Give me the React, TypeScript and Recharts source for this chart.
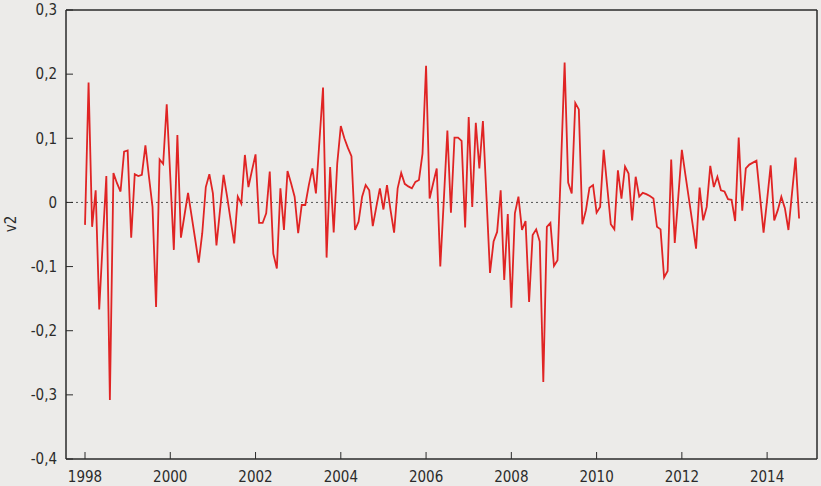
import { LineChart, Line, XAxis, YAxis, ReferenceLine, ReferenceArea, Label } from 'recharts';

// monthly values of v2, Jan 1998 .. Oct 2014
const years = [1998, 1999, 2000, 2001, 2002, 2003, 2004, 2005, 2006, 2007, 2008, 2009, 2010, 2011, 2012, 2013, 2014];
const v1998 = [-0.035, 0.187, -0.038, 0.019, -0.167, -0.06, 0.041, -0.308, 0.046, 0.03, 0.017, 0.079];
const v1999 = [0.081, -0.055, 0.044, 0.041, 0.043, 0.089, 0.04, -0.007, -0.163, 0.067, 0.06, 0.153];
const v2000 = [0.04, -0.074, 0.105, -0.055, -0.02, 0.015, -0.021, -0.057, -0.094, -0.048, 0.024, 0.044];
const v2001 = [0.014, -0.067, -0.012, 0.043, 0.009, -0.028, -0.064, 0.009, -0.002, 0.074, 0.024, 0.05];
const v2002 = [0.075, -0.032, -0.032, -0.017, 0.048, -0.08, -0.103, 0.022, -0.043, 0.049, 0.03, 0.009];
const v2003 = [-0.048, -0.004, -0.004, 0.027, 0.053, 0.014, 0.097, 0.179, -0.086, 0.055, -0.047, 0.061];
const v2004 = [0.119, 0.1, 0.085, 0.072, -0.043, -0.03, 0.009, 0.027, 0.019, -0.037, -0.007, 0.022];
const v2005 = [-0.011, 0.027, -0.012, -0.047, 0.022, 0.046, 0.029, 0.025, 0.022, 0.032, 0.035, 0.076];
const v2006 = [0.213, 0.006, 0.03, 0.053, -0.1, 0.004, 0.112, -0.016, 0.101, 0.101, 0.096, -0.039];
const v2007 = [0.133, -0.007, 0.124, 0.053, 0.127, 0.009, -0.11, -0.061, -0.046, 0.019, -0.121, -0.018];
const v2008 = [-0.164, -0.017, 0.009, -0.043, -0.029, -0.155, -0.051, -0.042, -0.061, -0.28, -0.038, -0.032];
const v2009 = [-0.099, -0.09, 0.06, 0.218, 0.031, 0.014, 0.155, 0.145, -0.034, -0.012, 0.023, 0.027];
const v2010 = [-0.016, -0.007, 0.082, 0.024, -0.034, -0.042, 0.05, 0.006, 0.056, 0.045, -0.028, 0.04];
const v2011 = [0.009, 0.015, 0.013, 0.01, 0.006, -0.038, -0.042, -0.117, -0.107, 0.067, -0.063, 0.009];
const v2012 = [0.082, 0.043, 0.005, -0.033, -0.072, 0.023, -0.028, -0.007, 0.057, 0.024, 0.04, 0.019];
const v2013 = [0.017, 0.005, 0.004, -0.029, 0.101, -0.013, 0.053, 0.059, 0.062, 0.065, 0.009, -0.047];
const v2014 = [0.004, 0.058, -0.028, -0.012, 0.009, -0.009, -0.043, 0.014, 0.07, -0.025];

const xTicks = [1998, 2000, 2002, 2004, 2006, 2008, 2010, 2012, 2014];
const yTicks = [-0.4, -0.3, -0.2, -0.1, 0, 0.1, 0.2, 0.3];

const series = [v1998, v1999, v2000, v2001, v2002, v2003, v2004, v2005, v2006, v2007, v2008, v2009, v2010, v2011, v2012, v2013, v2014];
const data = series.flatMap((vals, k) => vals.map((v, m) => ({ t: years[k] + m / 12, v2: v })));

const FONT = "'DejaVu Sans Condensed', 'DejaVu Sans', sans-serif";
const INK = '#2b2b2b';
const xDomain = [1997.554, 2015.17];
const yDomain = [-0.4, 0.3];

const fmtY = (v: number) => (v === 0 ? '0' : v.toFixed(1).replace('.', ','));

export default function App() {
  return (
    <div style={{ position: 'absolute', left: 0, top: 0, width: 821, height: 486, background: '#ecebe9' }}>
      <LineChart width={821} height={486} data={data} margin={{ top: 9, right: 0, bottom: 0, left: 0 }}>
        <XAxis
          dataKey="t"
          type="number"
          domain={xDomain}
          ticks={xTicks}
          interval={0}
          allowDataOverflow
          height={27}
          tickSize={-7}
          tickMargin={19}
          stroke={INK}
          tick={{ fontSize: 15, fill: INK, fontFamily: FONT }}
        />
        <XAxis
          xAxisId="top"
          orientation="top"
          dataKey="t"
          type="number"
          domain={xDomain}
          ticks={xTicks}
          interval={0}
          allowDataOverflow
          height={1}
          tickSize={-7}
          tick={false}
          stroke={INK}
        />
        <YAxis
          domain={yDomain}
          ticks={yTicks}
          interval={0}
          allowDataOverflow
          width={66}
          tickSize={-7}
          tickMargin={16}
          tickFormatter={fmtY}
          stroke={INK}
          tick={{ fontSize: 15, fill: INK, fontFamily: FONT }}
          label={
            <Label
              content={() => (
                <text
                  x={11}
                  y={224}
                  transform="rotate(-90 11 224)"
                  textAnchor="middle"
                  dominantBaseline="central"
                  fontSize={15}
                  fill={INK}
                  fontFamily={FONT}
                >
                  v2
                </text>
              )}
            />
          }
        />
        <YAxis
          yAxisId="right"
          orientation="right"
          domain={yDomain}
          ticks={yTicks}
          interval={0}
          allowDataOverflow
          width={4}
          tickSize={-7}
          tick={false}
          stroke={INK}
        />
        <ReferenceArea
          x1={xDomain[0]}
          x2={xDomain[1]}
          y1={yDomain[0]}
          y2={yDomain[1]}
          fill="none"
          stroke={INK}
          strokeWidth={1}
          ifOverflow="visible"
        />
        <ReferenceLine y={0} stroke="#555" strokeDasharray="2 3" />
        <Line
          type="linear"
          dataKey="v2"
          stroke="#e02424"
          strokeWidth={1.8}
          dot={false}
          isAnimationActive={false}
        />
      </LineChart>
    </div>
  );
}
